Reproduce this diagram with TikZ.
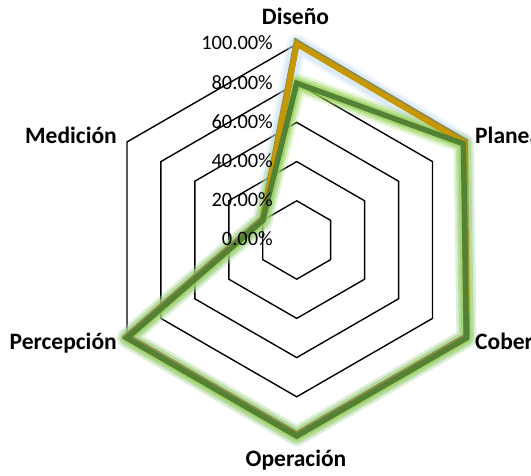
\documentclass[tikz,border=0pt]{standalone}
\usepackage{fontspec}
\setmainfont{Carlito}
\definecolor{goldc}{RGB}{200,152,0}
\definecolor{goldsh}{RGB}{140,140,88}
\definecolor{goldglow}{RGB}{190,216,240}
\definecolor{grn}{RGB}{84,130,53}
\definecolor{grnglow}{RGB}{146,208,80}
\tikzset{
  gridline/.style={draw=black, line width=1.4, line join=miter},
  ticklab/.style={inner sep=0pt, anchor=base east, font=\fontsize{20.5}{24}\selectfont},
  axlab/.style={inner sep=0pt, font=\fontsize{23.6}{28}\selectfont\bfseries},
  glowA/.style={line width=20, line join=round, opacity=0.22},
  glowB/.style={line width=15, line join=round, opacity=0.38},
  glowC/.style={line width=10, line join=round, opacity=0.6},
  serline/.style={line width=5.5, line join=miter}
}
\begin{document}
\begin{tikzpicture}[x=1bp,y=1bp]
\useasboundingbox (0,0) rectangle (531,476);
\clip (0,0) rectangle (531,476);
\begin{scope}[shift={(296.7,236)}]
  \foreach \k in {1,...,5}{
    \draw[gridline] (90:\k*39.2) -- (30:\k*39.2) -- (-30:\k*39.2) -- (-90:\k*39.2) -- (210:\k*39.2) -- (150:\k*39.2) -- cycle;
  }
  % glows
  \foreach \g in {glowA,glowB}{
    \draw[\g, draw=goldglow] (90:196) -- (30:194) -- (-30:196) -- (-90:196) -- (210:196) -- (150:39.2) -- cycle;
  }
  \foreach \g in {glowA,glowB,glowC}{
    \draw[\g, draw=grnglow] (90:156.8) -- (30:192.5) -- (-30:196) -- (-90:196) -- (210:196) -- (150:39.2) -- cycle;
  }
  % gold series
  \draw[serline, draw=goldsh, line width=6.5] ([yshift=1.5]90:196) -- ([yshift=1.5]30:194) -- ([yshift=1.5]-30:196) -- ([yshift=1.5]-90:196) -- ([yshift=1.5]210:196) -- ([yshift=1.5]150:39.2) -- cycle;
  \draw[serline, draw=goldc] (90:196) -- (30:194) -- (-30:196) -- (-90:196) -- (210:196) -- (150:39.2) -- cycle;
  % green series
  \draw[serline, draw=grn] (90:156.8) -- (30:192.5) -- (-30:196) -- (-90:196) -- (210:196) -- (150:39.2) -- cycle;
\end{scope}
% tick labels
\node[ticklab] (t100) at (273,426) {100.00\%};
\node[ticklab] (t80) at (273,386.8) {80.00\%};
\node[ticklab] (t60) at (273,347.6) {60.00\%};
\node[ticklab] (t40) at (273,308.4) {40.00\%};
\node[ticklab] (t20) at (273,269.2) {20.00\%};
\node[ticklab] (t0) at (273,230) {0.00\%};
% axis labels
\node[axlab, anchor=base] (dis) at (295.5,451) {Diseño};
\node[axlab, anchor=base west] (pla) at (475,332) {Planeación};
\node[axlab, anchor=base west] (cob) at (475,126) {Cobertura};
\node[axlab, anchor=base] (ope) at (296,9) {Operación};
\node[axlab, anchor=base east] (per) at (117,126) {Percepción};
\node[axlab, anchor=base east] (med) at (117,332) {Medición};
\end{tikzpicture}
\end{document}
